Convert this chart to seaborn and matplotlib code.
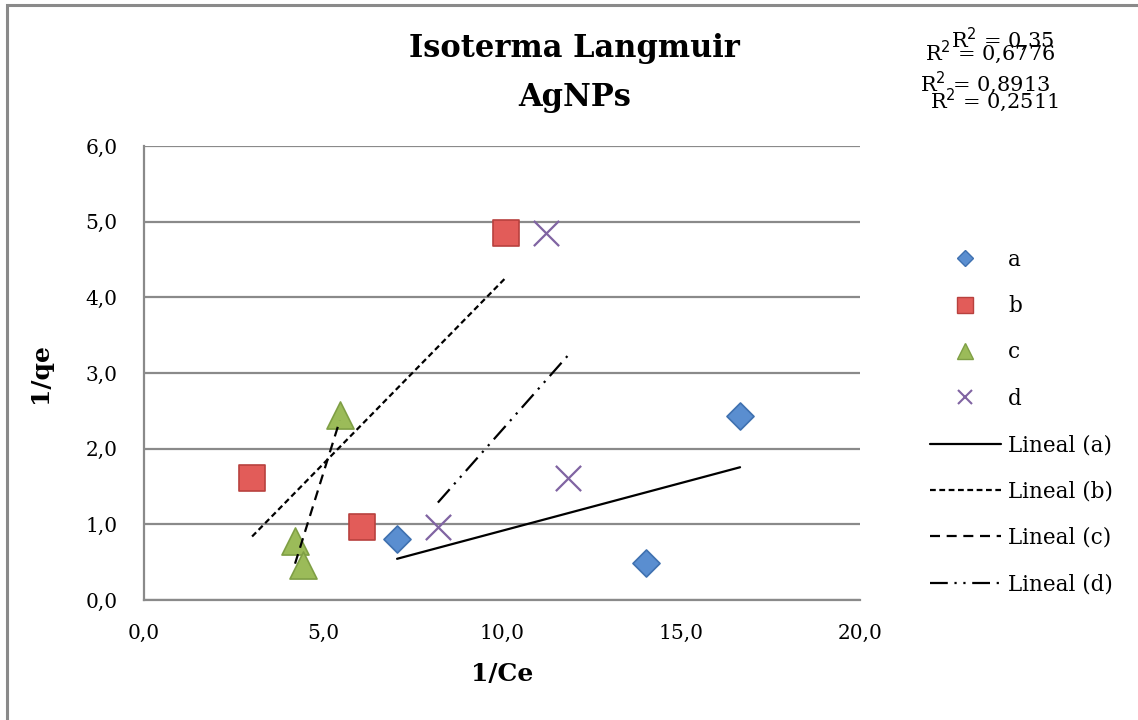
import numpy as np
import pandas as pd
import matplotlib
matplotlib.use("Agg")
import matplotlib.pyplot as plt
from matplotlib.lines import Line2D
from matplotlib.patches import Rectangle
import seaborn as sns

# Adsorption data: 1/Ce vs 1/qe for each series
series = ["a", "b", "c", "d"]
x_a = [7.07, 14.02, 16.65]
y_a = [0.80, 0.49, 2.43]
x_b = [3.02, 6.10, 10.10]
y_b = [1.61, 0.96, 4.85]
x_c = [4.22, 4.45, 5.47]
y_c = [0.78, 0.46, 2.44]
x_d = [8.21, 11.84, 11.23]
y_d = [0.96, 1.61, 4.85]
r2_labels = ["R$^2$ = 0,35", "R$^2$ = 0,6776", "R$^2$ = 0,8913", "R$^2$ = 0,2511"]

xs = [x_a, x_b, x_c, x_d]
ys = [y_a, y_b, y_c, y_d]
df = pd.concat(
    [pd.DataFrame({"x": x, "y": y, "serie": s}) for s, x, y in zip(series, xs, ys)],
    ignore_index=True,
)

colors = {"a": "#5A8ED0", "b": "#E25C59", "c": "#9BBB59", "d": "#8064A2"}
edges = {"a": "#3F71B0", "b": "#B8413E", "c": "#7F9F45", "d": "#8064A2"}
markers = {"a": "D", "b": "s", "c": "^", "d": "x"}
sizes = {"a": 190, "b": 350, "c": 380, "d": 330}
line_styles = {
    "a": "-",
    "b": (0, (2.6, 1.6)),
    "c": (0, (4.5, 3.0)),
    "d": (0, (8, 3, 1, 3, 1, 3)),
}

sns.set_theme(style="white")
plt.rcParams["font.family"] = ["DejaVu Serif"]
plt.rcParams["text.color"] = "black"
plt.rcParams["axes.labelcolor"] = "black"

fig = plt.figure(figsize=(11.38, 7.2), dpi=100)
ax = fig.add_axes([0.1265, 0.1667, 0.6292, 0.6306])

# outer chart frame
fig.patches.append(Rectangle((7 / 1138, -0.05), 1.2, 1 - 5 / 720 + 0.05,
                             transform=fig.transFigure, fill=False,
                             edgecolor="#8a8a8a", linewidth=2.2, zorder=0))

for s in series:
    sub = df[df.serie == s]
    if markers[s] == "x":
        sns.scatterplot(data=sub, x="x", y="y", marker="x", s=sizes[s],
                        color=colors[s], linewidth=1.6, ax=ax, zorder=4,
                        legend=False)
    else:
        sns.scatterplot(data=sub, x="x", y="y", marker=markers[s], s=sizes[s],
                        color=colors[s], edgecolor=edges[s], linewidth=1.2,
                        ax=ax, zorder=4, legend=False)

# least-squares trend lines over each series' x-range
for s, x, y in zip(series, xs, ys):
    k, b = np.polyfit(x, y, 1)
    xx = np.array([min(x), max(x)])
    ax.plot(xx, k * xx + b, color="black", linewidth=1.6,
            linestyle=line_styles[s], zorder=5)

ax.set_xlim(0, 20)
ax.set_ylim(0, 6)
ax.set_xticks(np.arange(0, 20.1, 5))
ax.set_yticks(np.arange(0, 6.1, 1))
ax.set_xticklabels([f"{v:.1f}".replace(".", ",") for v in np.arange(0, 20.1, 5)])
ax.set_yticklabels([f"{v:.1f}".replace(".", ",") for v in np.arange(0, 6.1, 1)])
ax.tick_params(axis="both", labelsize=14.5, colors="black", length=0)
ax.tick_params(axis="y", pad=19)
ax.tick_params(axis="x", pad=17)
ax.yaxis.grid(True, color="#8a8a8a", linewidth=1.6)
ax.xaxis.grid(False)
ax.set_axisbelow(True)
for sp in ["top", "right"]:
    ax.spines[sp].set_visible(False)
for sp in ["left", "bottom"]:
    ax.spines[sp].set_color("#8a8a8a")
    ax.spines[sp].set_linewidth(1.6)

ax.set_xlabel("1/Ce", fontsize=18, fontweight="bold", labelpad=14)
ax.set_ylabel("1/qe", fontsize=18, fontweight="bold", labelpad=24)

fig.text(0.505, 0.933, "Isoterma Langmuir", ha="center", va="center",
         fontsize=22, fontweight="bold")
fig.text(0.505, 0.864, "AgNPs", ha="center", va="center",
         fontsize=22, fontweight="bold")

# R² annotations
r2_pos = [(0.881, 0.946), (0.870, 0.927), (0.866, 0.884), (0.874, 0.861)]
for (px, py), lab in zip(r2_pos, r2_labels):
    fig.text(px, py, lab, ha="center", va="center", fontsize=15)

handles = []
for s in series:
    if markers[s] == "x":
        handles.append(Line2D([], [], linestyle="none", marker="x",
                              color=colors[s], markersize=10, markeredgewidth=1.5,
                              label=s))
    else:
        handles.append(Line2D([], [], linestyle="none", marker=markers[s],
                              markerfacecolor=colors[s], markeredgecolor=edges[s],
                              markersize=11 if markers[s] != "D" else 8.5,
                              label=s))
for s in series:
    handles.append(Line2D([], [], color="black", linewidth=1.6,
                          linestyle=line_styles[s], label=f"Lineal ({s})"))

fig.legend(handles=handles, loc="center left", bbox_to_anchor=(0.8, 0.414),
           frameon=False, fontsize=15.5, handlelength=3.3, labelspacing=1.13,
           handletextpad=0.35)

fig.savefig("out.png", dpi=100)
